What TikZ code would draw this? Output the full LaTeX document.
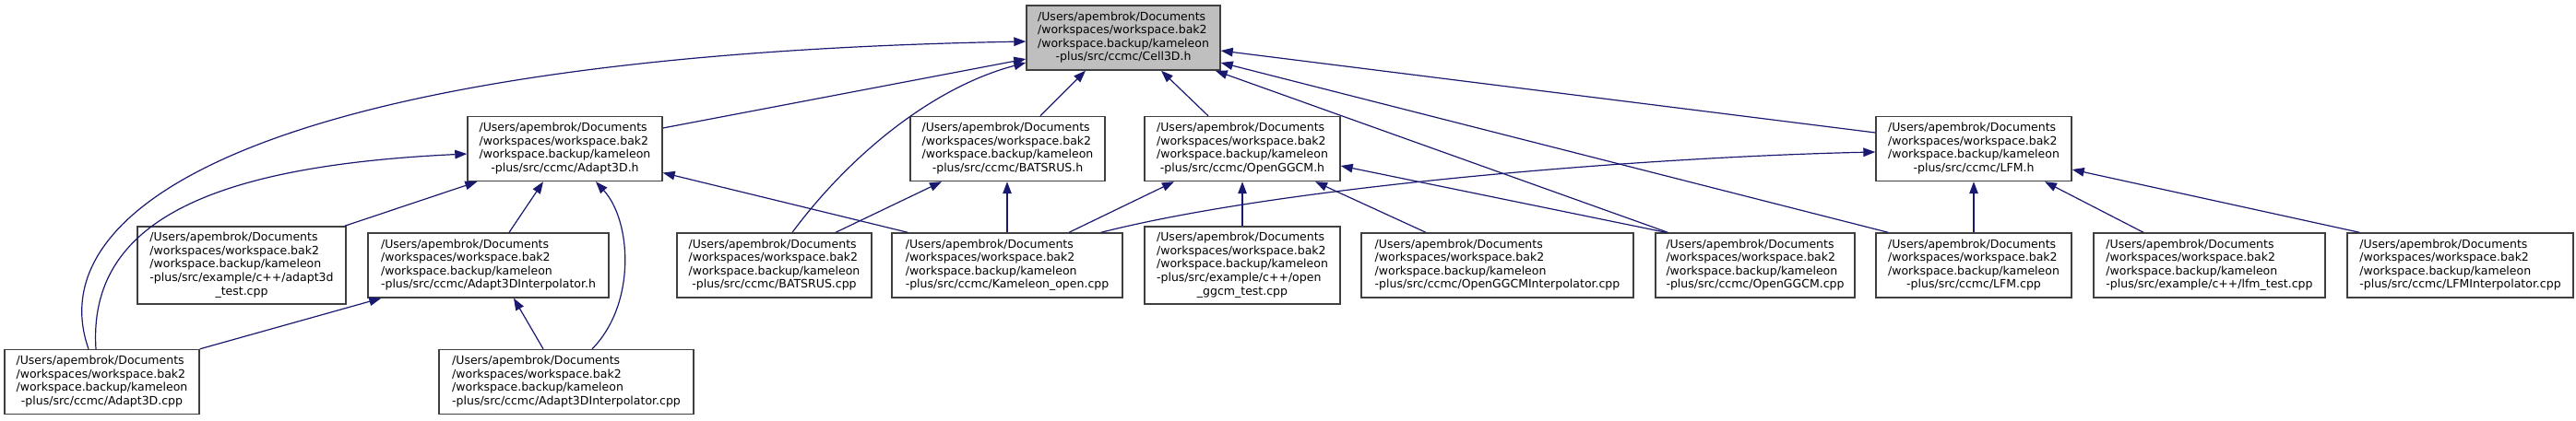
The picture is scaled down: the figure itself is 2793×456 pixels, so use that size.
\documentclass[tikz,border=0pt]{standalone}
\usepackage{fontspec}
\setmainfont{DejaVu Sans}
\usetikzlibrary{arrows.meta}
\definecolor{edgec}{HTML}{191970}
\definecolor{boxc}{HTML}{404040}
\definecolor{rootc}{HTML}{BFBFBF}
\newcommand{\fp}[1]{\begin{tabular}{@{}l@{}}/Users/apembrok/Documents\\/workspaces/workspace.bak2\\/workspace.backup/kameleon\\\multicolumn{1}{@{}c@{}}{#1}\end{tabular}}
\newcommand{\fpv}[2]{\begin{tabular}{@{}l@{}}/Users/apembrok/Documents\\/workspaces/workspace.bak2\\/workspace.backup/kameleon\\#1\\\multicolumn{1}{@{}c@{}}{#2}\end{tabular}}
\tikzset{
  filebox/.style={draw=boxc, line width=1.4pt, fill=white, inner sep=0pt, minimum height=70pt,
    font=\fontsize{12.5}{14.6}\selectfont, align=center},
  tallbox/.style={filebox, minimum height=84pt},
  rootbox/.style={filebox, fill=rootc},
  dep/.style={draw=edgec, line width=1.2pt, -{Triangle[length=13pt,width=9.5pt]}}
}
\begin{document}
\begin{tikzpicture}[x=1pt,y=-1pt]
\useasboundingbox (0,0) rectangle (2793,456);
% row 1
\node[rootbox, minimum width=210pt] (cell) at (1218,41) {\fp{-plus/src/ccmc/Cell3D.h}};
% row 2
\node[filebox, minimum width=211pt] (a3h) at (612.5,161.5) {\fp{-plus/src/ccmc/Adapt3D.h}};
\node[filebox, minimum width=211pt] (bh) at (1092.5,161.5) {\fp{-plus/src/ccmc/BATSRUS.h}};
\node[filebox, minimum width=212pt] (oh) at (1347,161.5) {\fp{-plus/src/ccmc/OpenGGCM.h}};
\node[filebox, minimum width=212pt] (lh) at (2140,161.5) {\fp{-plus/src/ccmc/LFM.h}};
% row 3
\node[tallbox, minimum width=226pt] (a3test) at (262,288) {\fpv{-plus/src/example/c++/adapt3d}{\_test.cpp}};
\node[filebox, minimum width=261pt] (a3ih) at (529.5,288) {\fp{-plus/src/ccmc/Adapt3DInterpolator.h}};
\node[filebox, minimum width=211pt] (bcpp) at (839.5,288) {\fp{-plus/src/ccmc/BATSRUS.cpp}};
\node[filebox, minimum width=250pt] (kcpp) at (1092,288) {\fp{-plus/src/ccmc/Kameleon\_open.cpp}};
\node[tallbox, minimum width=212pt] (otest) at (1347,288) {\fpv{-plus/src/example/c++/open}{\_ggcm\_test.cpp}};
\node[filebox, minimum width=295pt] (oicpp) at (1623.5,288) {\fp{-plus/src/ccmc/OpenGGCMInterpolator.cpp}};
\node[filebox, minimum width=216pt] (ocpp) at (1903,288) {\fp{-plus/src/ccmc/OpenGGCM.cpp}};
\node[filebox, minimum width=212pt] (lcpp) at (2140,288) {\fp{-plus/src/ccmc/LFM.cpp}};
\node[filebox, minimum width=251pt] (ltest) at (2395.5,288) {\fp{-plus/src/example/c++/lfm\_test.cpp}};
\node[filebox, minimum width=245pt] (licpp) at (2667.5,288) {\fp{-plus/src/ccmc/LFMInterpolator.cpp}};
% row 4
\node[filebox, minimum width=211pt] (a3cpp) at (110.5,414.5) {\fp{-plus/src/ccmc/Adapt3D.cpp}};
\node[filebox, minimum width=276pt] (a3icpp) at (614,414.5) {\fp{-plus/src/ccmc/Adapt3DInterpolator.cpp}};
% edges to Cell3D.h
\draw[dep] ([xshift=-14.5pt]a3cpp.north) .. controls (40,220) and (300,60) .. ([shift={(0,4)}]cell.west);
\draw[dep] ([shift={(0,-22.5)}]a3h.east) -- ([shift={(0,23)}]cell.west);
\draw[dep] ([xshift=19.5pt]bcpp.north) .. controls (920,170) and (1010,95) .. ([shift={(0,27)}]cell.west);
\draw[dep] ([xshift=35.5pt]bh.north) -- ([xshift=-41pt]cell.south);
\draw[dep] ([xshift=-37pt]oh.north) -- ([xshift=41pt]cell.south);
\draw[dep] ([shift={(14,0)}]ocpp.north west) -- ([shift={(-6,0)}]cell.south east);
\draw[dep] ([shift={(14,0)}]lcpp.north west) -- ([shift={(0,27)}]cell.east);
\draw[dep] ([shift={(0,-17.5)}]lh.west) -- ([shift={(0,14)}]cell.east);
% edges to Adapt3D.h
\draw[dep] ([xshift=-6.5pt]a3cpp.north) .. controls (95,240) and (230,180) .. ([shift={(0,5.5)}]a3h.west);
\draw[dep] ([shift={(-2,0)}]a3test.north east) -- ([shift={(11,0)}]a3h.south west);
\draw[dep] ([xshift=22.5pt]a3ih.north) -- ([xshift=-23.5pt]a3h.south);
\draw[dep] ([xshift=28pt]a3icpp.north) .. controls (690,330) and (685,240) .. ([xshift=33.5pt]a3h.south);
\draw[dep] ([shift={(18,0)}]kcpp.north west) -- ([shift={(0,26)}]a3h.east);
% edges to Adapt3DInterpolator.h
\draw[dep] (a3cpp.north east) -- ([shift={(15,0)}]a3ih.south west);
\draw[dep] ([xshift=-25pt]a3icpp.north) -- ([xshift=27.5pt]a3ih.south);
% edges to BATSRUS.h
\draw[dep] ([xshift=66.5pt]bcpp.north) -- ([xshift=-71.5pt]bh.south);
\draw[dep] (kcpp.north) -- (kcpp.north |- bh.south);
% edges to OpenGGCM.h
\draw[dep] ([xshift=67pt]kcpp.north) -- ([xshift=-74pt]oh.south);
\draw[dep] (otest.north) -- (oh.south);
\draw[dep] ([xshift=-77.5pt]oicpp.north) -- ([xshift=79pt]oh.south);
\draw[dep] ([shift={(12,0)}]ocpp.north west) -- ([shift={(0,18.5)}]oh.east);
% edges to LFM.h
\draw[dep] ([shift={(-24,0)}]kcpp.north east) .. controls (1400,200) and (1800,170) .. ([shift={(0,3.5)}]lh.west);
\draw[dep] (lcpp.north) -- (lh.south);
\draw[dep] ([xshift=-71.5pt]ltest.north) -- ([xshift=77pt]lh.south);
\draw[dep] ([shift={(14,0)}]licpp.north west) -- ([shift={(0,22.5)}]lh.east);
\end{tikzpicture}
\end{document}
